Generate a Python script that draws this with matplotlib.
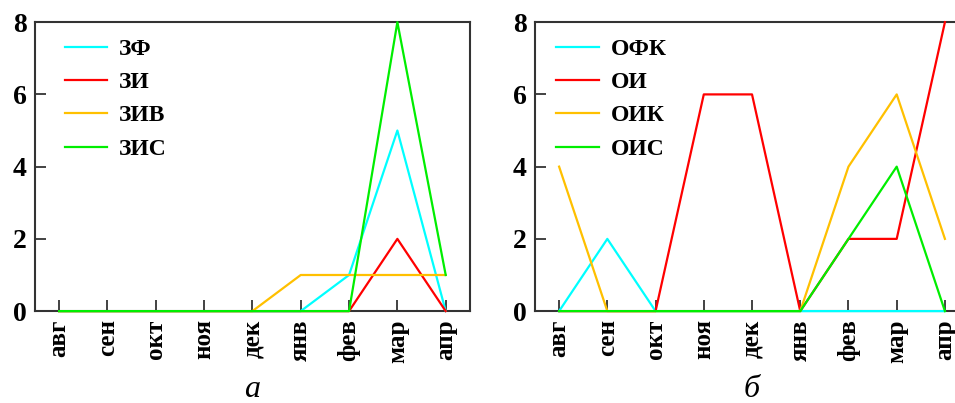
import matplotlib
matplotlib.use('Agg')
import matplotlib.pyplot as plt

plt.rcParams['font.family'] = ['Liberation Serif', 'DejaVu Serif']

months = ['авг', 'сен', 'окт', 'ноя', 'дек', 'янв', 'фев', 'мар', 'апр']

# panel a
zf = [0, 0, 0, 0, 0, 0, 1, 5, 0]
zi = [0, 0, 0, 0, 0, 0, 0, 2, 0]
ziv = [0, 0, 0, 0, 0, 1, 1, 1, 1]
zis = [0, 0, 0, 0, 0, 0, 0, 8, 1]

# panel b
ofk = [0, 2, 0, 0, 0, 0, 0, 0, 0]
oi = [0, 0, 0, 6, 6, 0, 2, 2, 8]
oik = [4, 0, 0, 0, 0, 0, 4, 6, 2]
ois = [0, 0, 0, 0, 0, 0, 2, 4, 0]

colors = ['#00ffff', '#ff0000', '#ffc000', '#00ee00']

fig = plt.figure(figsize=(9.55, 4.03), dpi=100)
ax1 = fig.add_axes([0.0366, 0.228, 0.4554, 0.717])
ax2 = fig.add_axes([0.5602, 0.228, 0.4545, 0.717])

def draw(ax, series, names, letter, xletter, legx):
    x = range(len(months))
    for s, n, c in zip(series, names, colors):
        ax.plot(x, s, color=c, lw=1.6, label=n, zorder=3, clip_on=False)
    ax.set_xlim(-0.5, 8.5)
    ax.set_ylim(0, 8)
    ax.set_yticks([0, 2, 4, 6, 8])
    ax.set_xticks(list(x))
    ax.set_xticklabels(months, rotation=90, fontsize=18, fontweight='bold')
    for lab in ax.get_yticklabels():
        lab.set_fontweight('bold')
        lab.set_fontsize(20)
    ax.tick_params(direction='in', length=8, width=1.2, color='#222222', pad=6)
    for sp in ax.spines.values():
        sp.set_color('#333333')
        sp.set_linewidth(1.5)
    ax.legend(loc='upper left', bbox_to_anchor=(legx, 0.977), borderaxespad=0,
              frameon=False, prop={'size': 17, 'weight': 'bold'},
              handlelength=1.8, labelspacing=0.5, handletextpad=0.5)
    fig.text(xletter, 0.015, letter, fontsize=23, style='italic', ha='center')

draw(ax1, [zf, zi, ziv, zis], ['ЗФ', 'ЗИ', 'ЗИВ', 'ЗИС'], 'а', 0.264, 0.047)
draw(ax2, [ofk, oi, oik, ois], ['ОФК', 'ОИ', 'ОИК', 'ОИС'], 'б', 0.787, 0.027)

fig.savefig('out.png', dpi=100)
